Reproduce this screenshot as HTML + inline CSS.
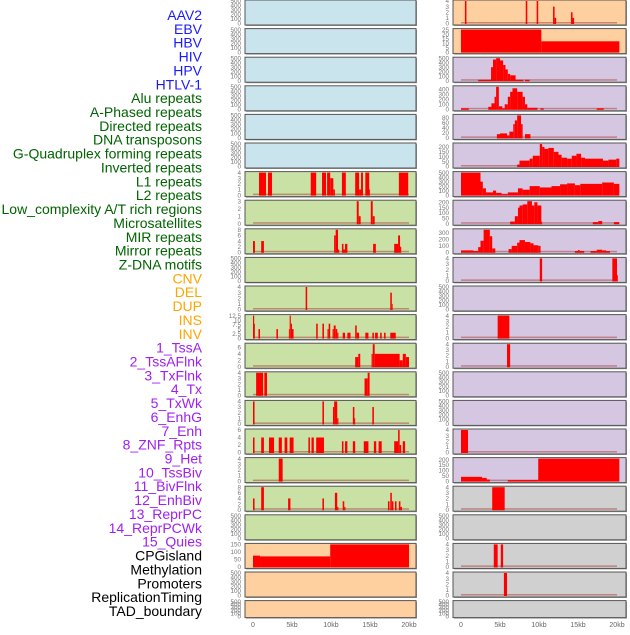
<!DOCTYPE html>
<html><head><meta charset="utf-8"><style>
body{margin:0;background:#fff;width:630px;height:630px;overflow:hidden;font-family:"Liberation Sans",sans-serif}
</style></head><body>
<svg id="chart" width="630" height="630" viewBox="0 0 630 630" xmlns="http://www.w3.org/2000/svg"></svg>
<script>
const trackLabels=["AAV2","EBV","HBV","HIV","HPV","HTLV-1","Alu repeats","A-Phased repeats","Directed repeats","DNA transposons","G-Quadruplex forming repeats","Inverted repeats","L1 repeats","L2 repeats","Low_complexity A/T rich regions","Microsatellites","MIR repeats","Mirror repeats","Z-DNA motifs","CNV","DEL","DUP","INS","INV","1_TssA","2_TssAFlnk","3_TxFlnk","4_Tx","5_TxWk","6_EnhG","7_Enh","8_ZNF_Rpts","9_Het","10_TssBiv","11_BivFlnk","12_EnhBiv","13_ReprPC","14_ReprPCWk","15_Quies","CPGisland","Methylation","Promoters","ReplicationTiming","TAD_boundary"];
const labelGroups=["v","v","v","v","v","v","r","r","r","r","r","r","r","r","r","r","r","r","r","s","s","s","s","s","c","c","c","c","c","c","c","c","c","c","c","c","c","c","c","o","o","o","o","o"];
const groupColors={v:"#1a1aff",r:"#006400",s:"#ffa500",c:"#a020f0",o:"#000"};
const xTicksKb=[0,5,10,15,20];
const xTickLabels=["0","5kb","10kb","15kb","20kb"];
const E=[];
const leftMax=[500,500,500,500,500,500,4,3,8,500,4,12.5,7,4,4,6,4,8,500,150,500,500];
const leftTicks=[[0,100,200,300,400,500],[0,100,200,300,400,500],[0,100,200,300,400,500],[0,100,200,300,400,500],[0,100,200,300,400,500],[0,100,200,300,400,500],[0,1,2,3,4],[0,1,2,3],[0,2,4,6,8],[0,100,200,300,400,500],[0,1,2,3,4],[0,2.5,5,7.5,10,12.5],[0,2,4,6],[0,1,2,3,4],[0,1,2,3,4],[0,2,4,6],[0,1,2,3,4],[0,2,4,6,8],[0,100,200,300,400,500],[0,50,100,150],[0,100,200,300,400,500],[0,100,200,300,400,500]];
const leftSegments=[E,E,E,E,E,E,
[[0.77,1.67,4],[1.92,2.44,4],[7.4,8.1,4],[8.85,9.36,4],[9.5,9.9,4],[9.9,10.3,3],[10.3,10.5,1],[11.4,11.9,4],[13.1,13.6,4],[13.6,13.85,1],[13.85,14.1,4],[14.4,14.9,4],[14.9,15.0,1],[18.7,19.9,4]],
[[13.3,13.55,3],[13.55,13.8,1],[15.1,15.35,3],[15.35,15.6,1]],
[[0,0.25,4],[1.05,1.4,4],[10.4,10.6,6],[10.6,10.9,8],[10.9,11.05,1],[11.4,11.6,3],[11.6,11.8,1],[11.8,12.1,3],[15.4,15.75,3],[18.1,18.6,3],[18.6,18.85,6],[18.85,19.0,2]],
E,
[[6.75,6.95,4],[17.6,17.8,3],[17.8,17.9,1]],
[[0,0.15,12.5],[0.15,0.25,8],[0.7,0.9,5],[3.0,3.2,5],[4.6,4.7,5],[4.7,4.85,12.5],[4.85,5.0,8],[5.0,5.2,5],[8.1,8.3,8],[8.9,9.1,8],[9.55,9.7,5],[9.7,9.9,8],[10.2,10.35,5],[10.35,10.6,7],[10.6,10.8,5],[10.8,10.95,3],[11.5,11.8,3],[12.1,12.5,3],[13.1,13.3,7],[13.3,13.6,3],[14.4,14.8,3],[15.3,15.5,3],[15.65,16.0,3],[16.3,16.5,3],[16.8,17.0,3],[17.6,18.3,3]],
[[13.1,13.5,3],[13.5,13.75,4],[15.2,15.35,4],[15.35,15.6,7],[15.6,18.8,4],[18.8,19.2,2],[19.2,19.6,4],[19.6,20.0,3]],
[[0.4,1.3,4],[1.45,1.8,4],[14.3,14.7,3],[14.7,14.95,4]],
[[0,0.2,4],[8.9,9.1,4],[10.25,10.4,3],[10.4,10.8,4],[10.8,10.95,1],[12.8,13.0,3],[13.0,13.1,1],[15.3,15.5,3]],
[[0,0.2,4],[1.05,1.4,4],[2.05,2.7,4],[3.3,3.7,4],[4.05,4.4,4],[4.7,5.2,4],[7.1,7.3,4],[7.5,7.8,4],[8.1,9.1,4],[11.4,11.6,3],[11.8,12.1,3],[12.8,13.1,3],[14.2,14.8,3],[15.5,15.8,3],[16.1,16.5,3],[18.1,18.6,3],[18.6,18.8,6],[18.8,19.0,2],[19.2,19.5,3]],
[[3.3,3.8,4]],
[[0,0.2,4],[1.05,1.4,8],[4.5,4.8,4],[8.9,9.1,4],[10.5,10.8,6],[10.8,10.95,1],[11.5,11.7,3],[11.7,11.85,1],[17.3,17.5,3],[17.6,17.8,6],[17.8,18.0,3],[18.2,18.4,3],[18.7,18.9,3],[18.9,19.1,1]],
E,
[[0,0.9,75],[0.9,9.9,70],[9.9,20.0,150]],
E,E];
const rightMax=[4,25,500,450,90,230,500,210,350,4,500,4,4,500,500,4,210,4,500,4,4,500];
const rightTicks=[[0,1,2,3,4],[0,5,10,15,20,25],[0,100,200,300,400,500],[0,100,200,300,400],[0,20,40,60,80],[0,50,100,150,200],[0,100,200,300,400,500],[0,50,100,150,200],[0,100,200,300],[0,1,2,3,4],[0,100,200,300,400,500],[0,1,2,3,4],[0,1,2,3,4],[0,100,200,300,400,500],[0,100,200,300,400,500],[0,1,2,3,4],[0,50,100,150,200],[0,1,2,3,4],[0,100,200,300,400,500],[0,1,2,3,4],[0,1,2,3,4],[0,100,200,300,400,500]];
const rightSegments=[
[[0.5,0.7,4],[8.3,8.5,4],[9.7,9.9,4],[11.8,12.0,3],[12.0,12.2,1],[14.1,14.3,2],[14.3,14.5,1]],
[[0,10.3,25],[10.3,20.3,12]],
[[2.2,3.85,20],[3.85,4.1,300],[4.1,4.5,470],[4.5,5.0,500],[5.0,5.4,450],[5.4,5.7,350],[5.7,6.0,250],[6.0,6.3,150],[6.3,7.0,120],[7.0,8.0,20],[8.2,8.8,20]],
[[0,1.0,20],[3.5,3.9,50],[3.9,4.3,120],[4.3,4.5,250],[4.5,4.85,450],[4.85,5.3,60],[5.3,5.6,20],[5.6,6.0,100],[6.0,6.3,250],[6.3,6.6,350],[6.6,7.2,420],[7.2,7.9,350],[7.9,8.2,250],[8.2,8.5,100],[8.5,9.8,30],[10.2,10.6,20],[17.4,18.3,20]],
[[4.6,5.0,15],[5.0,5.9,18],[5.9,6.2,10],[6.2,6.7,25],[6.7,6.9,55],[6.9,7.2,70],[7.2,7.7,90],[7.7,7.9,55],[8.2,8.9,15]],
[[7.2,7.5,20],[7.5,8.8,60],[8.8,9.2,80],[9.2,10.1,110],[10.1,10.4,230],[10.4,10.7,200],[10.7,11.2,180],[11.2,11.9,190],[11.9,12.5,150],[12.5,12.9,120],[12.9,13.6,90],[13.6,14.2,80],[14.2,14.8,110],[14.8,15.4,130],[15.4,15.9,90],[15.9,18.2,80],[18.2,18.9,60],[18.9,19.9,70],[19.9,20.3,80]],
[[0,2.5,500],[2.5,2.8,300],[2.8,3.2,150],[3.2,4.1,60],[4.1,4.5,100],[4.5,5.2,50],[5.2,6.0,20],[6.0,7.3,60],[7.3,7.9,150],[7.9,8.8,120],[8.8,10.1,200],[10.1,11.6,170],[11.6,12.7,200],[12.7,13.6,240],[13.6,14.6,260],[14.6,15.3,220],[15.3,18.1,250],[18.1,19.6,280],[19.6,20.3,250]],
[[6.3,6.9,20],[6.9,7.3,70],[7.3,7.5,150],[7.5,7.9,170],[7.9,8.5,180],[8.5,9.1,210],[9.1,9.4,170],[9.4,9.8,200],[9.8,10.3,170],[10.3,10.4,20],[16.9,17.6,15],[17.6,18.1,25],[19.6,20.3,15]],
[[0,1.6,30],[1.6,2.2,20],[2.2,2.5,80],[2.5,2.9,180],[2.9,3.7,350],[3.7,4.0,250],[4.0,4.4,60],[6.1,6.5,50],[6.5,7.2,100],[7.2,7.5,150],[7.5,8.2,190],[8.2,8.9,160],[8.9,9.3,140],[9.3,9.9,110],[9.9,10.2,100],[14.6,15.0,20],[15.0,15.2,35],[15.2,15.8,20],[16.6,17.4,20],[17.4,18.1,40],[18.1,18.6,30],[18.6,19.1,20]],
[[10.1,10.4,4],[19.4,20.0,4],[20.0,20.1,1]],
E,
[[4.7,6.2,4]],
[[5.9,6.3,4]],
E,E,
[[0,0.9,4]],
[[0,2.7,40],[2.7,3.3,30],[3.3,3.7,15],[6.0,9.9,10],[9.9,20.3,210]],
[[4.0,5.6,4]],
E,
[[4.2,4.7,4],[5.1,5.4,4]],
[[5.5,5.9,4]],
E];
const leftBg=["#c9e4ec","#c9e4ec","#c9e4ec","#c9e4ec","#c9e4ec","#c9e4ec","#c9e1a5","#c9e1a5","#c9e1a5","#c9e1a5","#c9e1a5","#c9e1a5","#c9e1a5","#c9e1a5","#c9e1a5","#c9e1a5","#c9e1a5","#c9e1a5","#c9e1a5","#fecf9f","#fecf9f","#fecf9f"];
const rightBg=["#fecf9f","#fecf9f"].concat(Array(15).fill("#d5c6e1"),Array(5).fill("#d0d0d0"));

const svg=document.getElementById('chart');
const NS="http://www.w3.org/2000/svg";
function mk(tag,attrs,parent){const e=document.createElementNS(NS,tag);for(const k in attrs)e.setAttribute(k,attrs[k]);(parent||svg).appendChild(e);return e;}
const rowTop=i=>i*28.6;
const rowH=i=>i===21?17:25;

// labels
trackLabels.forEach((t,i)=>{
  const el=mk('text',{x:202,y:15+i*13.86+5,'text-anchor':'end','font-size':'14',fill:groupColors[labelGroups[i]]});
  el.textContent=t;
  
  
});

function drawCol(side,x0,x1,zeroX,maxArr,tickArr,segArr,bgArr){
  const xs=kb=>zeroX+kb*7.8;
  for(let i=0;i<22;i++){
    const top=rowTop(i),h=rowH(i);
    const g=mk('g',{});
    
    
    mk('rect',{x:x0+1,y:top+1,width:x1-x0,height:h,fill:'#999'},g);
    mk('rect',{x:x0,y:top,width:x1-x0,height:h,fill:bgArr[i],stroke:'#555','stroke-width':1},g);
    const y0=top+h-1.5,ys=v=>y0-(v/maxArr[i])*(h-2.5);
    tickArr[i].forEach(v=>{
      const t=mk('text',{x:x0-4,y:ys(v)+2.2,'text-anchor':'end','font-size':'6.3',fill:'#777'},g);
      t.textContent=String(v);
      
      
    });
    const segs=segArr[i];
    if(segs.length && maxArr[i]!==25 && maxArr[i]!==150){
      const bl=mk('rect',{x:xs(0),y:y0-1.5,width:xs(20)-xs(0),height:1.5,fill:'#b05050',opacity:0.6},g);
      
      
    }
    segs.forEach(s=>{
      const b=mk('rect',{x:xs(s[0]),y:ys(s[2]),width:Math.max(0.8,xs(s[1])-xs(s[0])),height:y0-ys(s[2])+0.5,fill:'#ff0000'},g);
      
      
    });
  }
  xTicksKb.forEach((k,j)=>{
    const t=mk('text',{x:xs(k),y:627,'text-anchor':'middle','font-size':'7',fill:'#666'});
    t.textContent=xTickLabels[j];
    
    
  });
}
drawCol('left',245,416,253,leftMax,leftTicks,leftSegments,leftBg);
drawCol('right',453,626,461,rightMax,rightTicks,rightSegments,rightBg);
</script>
</body></html>
